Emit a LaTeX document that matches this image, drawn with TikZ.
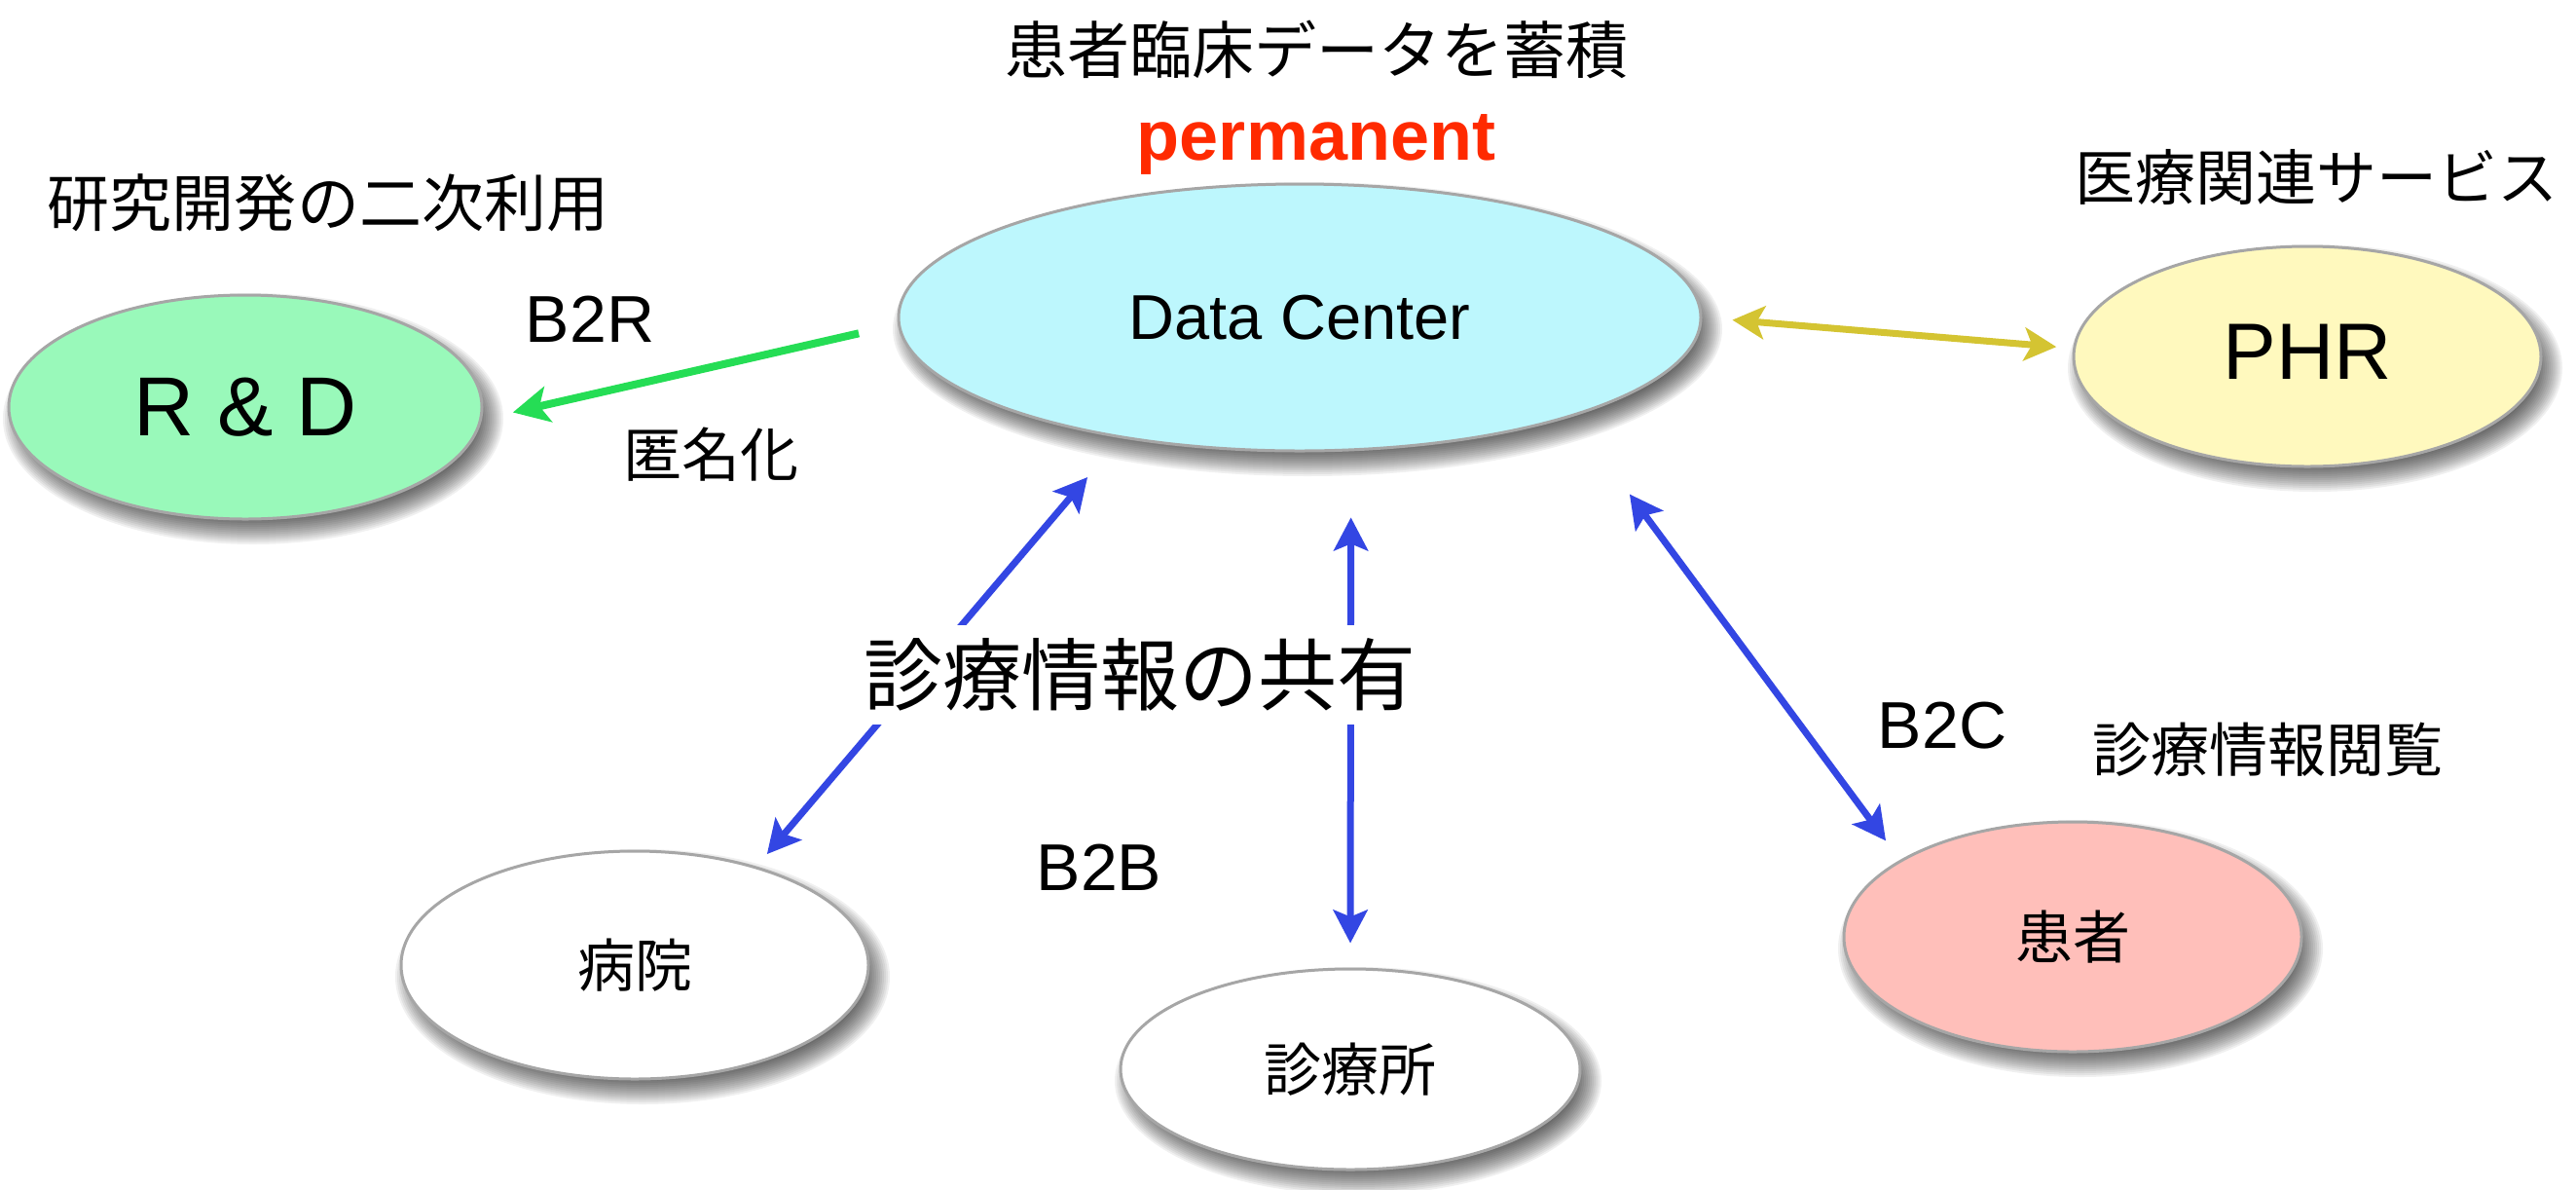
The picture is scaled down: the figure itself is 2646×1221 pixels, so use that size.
\documentclass[tikz,border=0pt]{standalone}
\usepackage{fontspec}
\setmainfont{Liberation Sans}
\newfontfamily\jp{Noto Sans CJK JP}
\usetikzlibrary{shapes.geometric,arrows.meta}
\definecolor{dcfill}{RGB}{189,247,253}
\definecolor{rdfill}{RGB}{153,249,186}
\definecolor{phrfill}{RGB}{255,249,190}
\definecolor{patfill}{RGB}{255,191,186}
\definecolor{myblue}{RGB}{51,70,227}
\definecolor{mygreen}{RGB}{37,221,85}
\definecolor{myyellow}{RGB}{212,196,50}
\definecolor{myred}{RGB}{255,42,0}
\definecolor{bordergray}{RGB}{166,166,166}
\newcommand{\fsz}[1]{\fontsize{#1bp}{#1bp}\selectfont}
\newcommand{\ellshadow}[4]{%
  \foreach \k in {0,...,15}{\fill[black,opacity=0.06] (#1+8,#2+12) ellipse [x radius={#3+14-2*\k}, y radius={#4+14-2*\k}];}}
\tikzset{
  bub/.style={ellipse, draw=bordergray, line width=3bp, inner sep=0pt},
  jptext/.style={font={\jp\fsz{#1}}, inner sep=0pt},
  lat/.style={font={\fsz{#1}}, inner sep=0pt},
  bluetip/.tip={Stealth[length=34bp,width=35bp,inset=7bp]},
  bluearrow/.style={draw=myblue, line width=7bp, bluetip-bluetip},
  greenarrow/.style={draw=mygreen, line width=8bp,
    -{Stealth[length=37bp,width=37bp,inset=9bp]}},
  yellowtip/.tip={Stealth[length=33bp,width=34bp,inset=8bp]},
  yellowarrow/.style={draw=myyellow, line width=7bp, yellowtip-yellowtip}
}
\begin{document}
\begin{tikzpicture}[x=1bp,y=-1bp]
\useasboundingbox (0,0) rectangle (2646,1221);
% shadows
\ellshadow{1335}{326}{412}{137}
\ellshadow{252}{418}{243}{115}
\ellshadow{2370}{366}{240}{113}
\ellshadow{652}{991}{240}{117}
\ellshadow{1387}{1098}{236}{103}
\ellshadow{2129}{962}{235}{118}
% ellipses
\node[bub, fill=dcfill, minimum width=824bp, minimum height=274bp, lat=65] (dc) at (1335,326) {Data Center};
\node[bub, fill=rdfill, minimum width=486bp, minimum height=230bp, lat=86] (rd) at (252,418) {R \& D};
\node[bub, fill=phrfill, minimum width=480bp, minimum height=226bp, lat=82] (phr) at (2370,366) {\raisebox{9bp}{PHR}};
\node[bub, fill=white, minimum width=480bp, minimum height=234bp, jptext=59] (hosp) at (652,991) {病院};
\node[bub, fill=white, minimum width=472bp, minimum height=206bp, jptext=59] (cl) at (1387,1098) {診療所};
\node[bub, fill=patfill, minimum width=470bp, minimum height=236bp, jptext=59] (pat) at (2129,962) {患者};
% texts
\node[jptext=64] (t1) at (1352,51) {患者臨床データを蓄積};
\node[lat=72, font={\fsz{72}\bfseries}, text=myred, anchor=base] (t2) at (1352,164) {permanent};
\node[jptext=64] (t3) at (337,208) {研究開発の二次利用};
\node[jptext=62] (t4) at (2379,182) {医療関連サービス};
\node[lat=68, anchor=base] (b2r) at (606,351) {B2R};
\node[jptext=60] (anon) at (730,467) {匿名化};
\node[lat=68, anchor=base] (b2b) at (1129,914) {B2B};
\node[lat=68, anchor=base] (b2c) at (1995,768) {B2C};
\node[jptext=60] (view) at (2329,770) {診療情報閲覧};
% connectors
\draw[greenarrow, shorten <=41bp, shorten >=32.6bp] (dc.181.4) -- (rd.-3.35);
\draw[yellowarrow, shorten <=31bp, shorten >=17bp] (dc.-0.66) -- (phr.178.1);
\draw[bluearrow, shorten <=52.5bp, shorten >=16.5bp] (dc.214.3) -- (hosp.39.2);
\draw[bluearrow, shorten <=68bp, shorten >=25bp] (dc.-69.06) -- (cl.north);
\draw[bluearrow, shorten <=99bp, shorten >=24.4bp] (dc.-20.22) -- (pat.156.4);
% shared label over the arrows
\node[jptext=81, fill=white, inner xsep=8bp, inner ysep=14bp] (share) at (1171,693) {診療情報の共有};
\end{tikzpicture}
\end{document}
